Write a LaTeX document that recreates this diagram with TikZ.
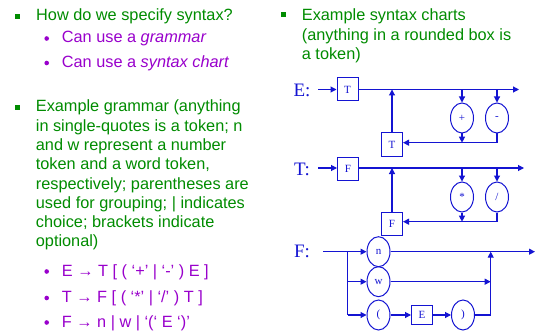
\documentclass[tikz,border=0pt]{standalone}
\usepackage{fontspec}
\setmainfont{Liberation Sans}
\newfontfamily\chartfont{Liberation Serif}
\usetikzlibrary{arrows.meta,shapes.geometric}
\definecolor{tgreen}{RGB}{0,140,0}
\definecolor{tpurple}{RGB}{153,0,204}
\definecolor{cblue}{RGB}{20,20,210}
\tikzset{
 txt/.style={anchor=base west, inner sep=0, font=\fontsize{16.3}{18.7}\selectfont},
 gtxt/.style={txt, text=tgreen},
 ptxt/.style={txt, text=tpurple},
 sqb/.style={fill=tgreen, minimum size=5pt, inner sep=0},
 dotb/.style={circle, fill=tpurple, minimum size=4.6pt, inner sep=0},
 lbl/.style={font=\chartfont\fontsize{19}{19}\selectfont, text=cblue, inner sep=0},
 nt/.style={draw=cblue, line width=1pt, minimum width=21pt, minimum height=23pt, inner sep=0, font=\chartfont\fontsize{11}{11}\selectfont, text=cblue},
 tok/.style={ellipse, draw=cblue, line width=1pt, minimum width=23pt, minimum height=30pt, inner sep=0, font=\chartfont\fontsize{11}{11}\selectfont, text=cblue},
 ln/.style={draw=cblue, line width=1.1pt},
 arr/.style={ln, -{Triangle[length=6pt,width=6pt]}},
}
\begin{document}
\begin{tikzpicture}[x=1pt,y=-1pt]
\useasboundingbox[fill=white] (0,0) rectangle (537,331);
% left column
\node[sqb] (b1) at (17.5,16.5) {};
\node[gtxt] (t1) at (36,21) {How do we specify syntax?};
\node[dotb] (d1) at (46.7,38.5) {};
\node[ptxt] (t2) at (61.7,43) {Can use a \textit{grammar}};
\node[dotb] (d2) at (46.7,63) {};
\node[ptxt] (t3) at (61.7,67.5) {Can use a \textit{syntax chart}};
\node[sqb] (b2) at (17.5,107.5) {};
\node[gtxt] (g1) at (35.7,111.8) {Example grammar (anything};
\node[gtxt] (g2) at (35.7,131.1) {in single-quotes is a token; n};
\node[gtxt] (g3) at (35.7,150.4) {and w represent a number};
\node[gtxt] (g4) at (35.7,169.7) {token and a word token,};
\node[gtxt] (g5) at (35.7,189) {respectively; parentheses are};
\node[gtxt] (g6) at (35.7,208.3) {used for grouping; | indicates};
\node[gtxt] (g7) at (35.7,227.6) {choice; brackets indicate};
\node[gtxt] (g8) at (35.7,246.9) {optional)};
\node[dotb] (d3) at (46.7,271.5) {};
\node[ptxt] (r1) at (61.7,276) {E → T [ ( ‘+’ | ‘-’ ) E ]};
\node[dotb] (d4) at (46.7,298) {};
\node[ptxt] (r2) at (61.7,302.5) {T → F [ ( ‘*’ | ‘/’ ) T ]};
\node[dotb] (d5) at (46.7,322.5) {};
\node[ptxt] (r3) at (61.7,327) {F → n | w | ‘(‘ E ‘)’};
% right column text
\node[sqb] (b3) at (283,15) {};
\node[gtxt] (h1) at (301.7,21) {Example syntax charts};
\node[gtxt] (h2) at (301.7,40.5) {(anything in a rounded box is};
\node[gtxt] (h3) at (301.7,60) {a token)};
% E chart
\node[lbl] (Elbl) at (302,90) {E:};
\coordinate (Es) at (318,89.5);
\node[nt] (T1) at (347.5,89.5) {T};
\coordinate (Ee) at (519,89.5);
\draw[arr] (Es) -- (T1);
\draw[arr] (T1) -- (Ee);
\node[nt] (T2) at (392,144.5) {T};
\coordinate (Ej) at (392,89.5);
\draw[arr] (T2) -- (Ej);
\node[tok] (plus) at (462,118) {+};
\node[tok] (minus) at (497,118) {-};
\coordinate (Ep) at (462,89.5);
\coordinate (Em) at (497,89.5);
\draw[arr] (Ep) -- (plus);
\draw[arr] (Em) -- (minus);
\coordinate (Er) at (462,142.7);
\draw[arr] (plus) -- (Er);
\draw[arr] (minus.south) |- (Er) -- (T2.east |- Er);
% T chart
\node[lbl] (Tlbl) at (302,169) {T:};
\coordinate (Ts) at (318,168);
\node[nt] (F1) at (348,168.5) {F};
\coordinate (Te) at (524,168);
\draw[arr] (Ts) -- (Ts -| F1.west);
\draw[arr] (F1.east |- Ts) -- (Te);
\node[nt] (F2) at (392,223.5) {F};
\coordinate (Tj) at (392,168);
\draw[arr] (F2) -- (Tj);
\node[tok] (times) at (462,197) {*};
\node[tok] (divide) at (497,197) {/};
\coordinate (Tp) at (462,168);
\coordinate (Tm) at (497,168);
\draw[arr] (Tp) -- (times);
\draw[arr] (Tm) -- (divide);
\coordinate (Tr) at (462,221.7);
\draw[arr] (times) -- (Tr);
\draw[arr] (divide.south) |- (Tr) -- (F2.east |- Tr);
% F chart
\node[lbl] (Flbl) at (302,251.7) {F:};
\coordinate (Fs) at (323,251.7);
\coordinate (Fsplit) at (347.7,251.7);
\coordinate (Fw) at (347.7,281.7);
\coordinate (Fb) at (347.7,315);
\node[tok] (n) at (378.5,251.7) {n};
\node[tok] (w) at (378.5,281.7) {w};
\node[tok] (lp) at (378.5,315) {(};
\node[nt, minimum height=18.5pt] (E) at (422,315) {E};
\node[tok] (rp) at (463,315) {)};
\coordinate (Fv) at (490.7,315);
\coordinate (Fvw) at (490.7,281.7);
\coordinate (Fvt) at (490.7,251.7);
\coordinate (Fe) at (535,251.7);
\draw[arr] (Fs) -- (n);
\draw[ln] (Fsplit) -- (Fb);
\draw[arr] (Fw) -- (w);
\draw[arr] (Fb) -- (lp);
\draw[arr] (lp) -- (E);
\draw[arr] (E) -- (rp);
\draw[ln] (rp) -- (Fv);
\draw[arr] (Fv) -- (Fvt);
\draw[arr] (w) -- (Fvw);
\draw[arr] (n) -- (Fe);
\end{tikzpicture}
\end{document}
